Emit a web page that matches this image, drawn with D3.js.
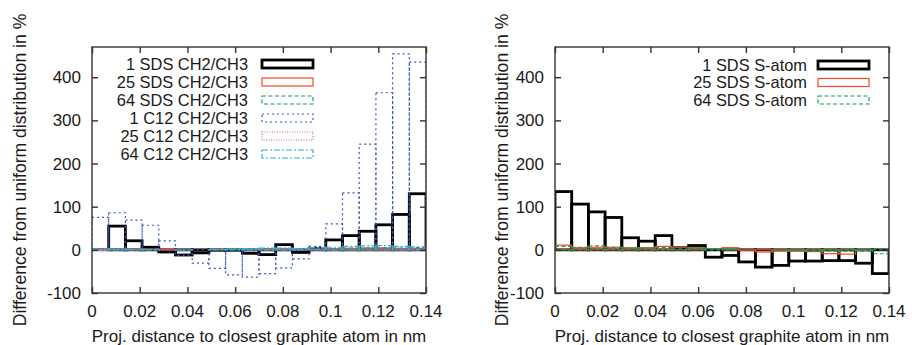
<!DOCTYPE html>
<html><head><meta charset="utf-8">
<script src="https://cdn.jsdelivr.net/npm/d3@7/dist/d3.min.js"></script>
<style>
html,body{margin:0;padding:0;background:#fff;}
svg{display:block;}
text{font-family:"Liberation Sans",Arial,Helvetica,sans-serif;fill:#1a1a1a;}
</style></head>
<body>
<svg id="chart" width="912" height="345"></svg>
<script>
// ---- data ----
const binEdges = [0,0.007,0.014,0.021,0.028,0.035,0.042,0.049,0.056,0.063,0.07,0.077,0.084,0.091,0.098,0.105,0.112,0.119,0.126,0.133,0.14];
const xTicks = [0,0.02,0.04,0.06,0.08,0.1,0.12,0.14];
const xTickLabels = ["0","0.02","0.04","0.06","0.08","0.1","0.12","0.14"];
const yTicks = [-100,0,100,200,300,400];
const yTickLabels = ["-100","0","100","200","300","400"];

// left panel: CH2/CH3
const leftNames = ["1 SDS CH2/CH3","25 SDS CH2/CH3","64 SDS CH2/CH3","1 C12 CH2/CH3","25 C12 CH2/CH3","64 C12 CH2/CH3"];
const sds1CH  = [0,55,21,6,-5,-12,-7,-1,-1,-8,-11,12,-6,3,23,33,43,58,82,130];
const sds25CH = [3,2,2,2,1,0,0,1,0,1,2,3,1,2,3,3,4,4,3,2];
const sds64CH = [2,2,1,1,0,0,0,0,1,1,2,2,1,2,3,4,4,5,4,5];
const c12_1CH = [75,86,69,57,21,-13,-31,-43,-58,-63,-55,-42,-21,8,60,132,245,364,454,435];
const c12_25CH = [-3,1,1,0,-1,-1,0,0,0,1,2,2,1,2,3,4,5,5,4,3];
const c12_64CH = [2,2,1,1,0,-1,0,1,2,3,4,4,3,5,6,8,9,10,8,7];

// right panel: S-atom
const rightNames = ["1 SDS S-atom","25 SDS S-atom","64 SDS S-atom"];
const sds1S  = [135,106,88,75,28,20,33,5,10,-17,-13,-28,-40,-36,-26,-26,-25,-25,-31,-55];
const sds25S = [11,5,6,6,5,5,8,6,5,0,5,-1,-5,-3,-3,-4,-9,-10,-1,0];
const sds64S = [8,6,9,6,4,4,5,4,4,2,1,0,0,-1,-2,-3,-3,-3,-3,-9];

// ---- styles ----
const styles = [
  {color:"#000000", width:2.8, dash:null},
  {color:"#ee4a2c", width:1.2, dash:null},
  {color:"#1a9a4a", width:1.2, dash:"4,2.5"},
  {color:"#3d55c8", width:1.2, dash:"2,3"},
  {color:"#e0559e", width:1.2, dash:"1,1.5"},
  {color:"#2bb3dc", width:1.2, dash:"6,2,2,2"}
];

const svg = d3.select("#chart");

function panel(opts){
  const {x0,x1,y0,y1,series,names,legendTextX,legendKeyX,legendRows,titleX} = opts;
  const x = d3.scaleLinear().domain([0,0.14]).range([x0,x1]);
  const y = d3.scaleLinear().domain([-100,470]).range([y1,y0]);
  const g = svg.append("g");
  const clipId = "clip"+Math.round(x0);
  svg.append("clipPath").attr("id",clipId).append("rect")
    .attr("x",x0).attr("y",y0).attr("width",x1-x0).attr("height",y1-y0);
  const plot = g.append("g").attr("clip-path",`url(#${clipId})`);

  series.forEach((vals,si)=>{
    const st = styles[si];
    plot.append("g").selectAll("rect").data(vals).join("rect")
      .attr("x",(d,i)=>x(binEdges[i]))
      .attr("width",(d,i)=>x(binEdges[i+1])-x(binEdges[i]))
      .attr("y",d=>Math.min(y(d),y(0)))
      .attr("height",d=>Math.abs(y(d)-y(0)))
      .attr("fill","none")
      .attr("stroke",st.color)
      .attr("stroke-width",st.width)
      .attr("stroke-dasharray",st.dash);
  });

  // frame
  g.append("rect").attr("x",x0).attr("y",y0).attr("width",x1-x0).attr("height",y1-y0)
    .attr("fill","none").attr("stroke","#333").attr("stroke-width",1.4);
  const tl = 6;
  const axB = d3.axisBottom(x).tickValues(xTicks).tickSize(tl).tickFormat(()=>"");
  const axT = d3.axisTop(x).tickValues(xTicks).tickSize(tl).tickFormat(()=>"");
  const axL = d3.axisLeft(y).tickValues(yTicks).tickSize(tl).tickFormat(()=>"");
  const axR = d3.axisRight(y).tickValues(yTicks).tickSize(tl).tickFormat(()=>"");
  [[axB,`translate(0,${y1-tl})`],[axT,`translate(0,${y0+tl})`],[axL,`translate(${x0+tl},0)`],[axR,`translate(${x1-tl},0)`]]
   .forEach(([ax,tr])=>{
     const a = g.append("g").attr("transform",tr).call(ax);
     a.select(".domain").remove();
     a.selectAll("line").attr("stroke","#333").attr("stroke-width",1.4);
   });
  // tick labels
  g.selectAll(null).data(xTicks).join("text")
    .attr("x",d=>x(d)).attr("y",317).attr("text-anchor","middle")
    .attr("font-size",17).text((d,i)=>xTickLabels[i]);
  g.selectAll(null).data(yTicks).join("text")
    .attr("x",x0-11).attr("y",d=>y(d)+6).attr("text-anchor","end")
    .attr("font-size",17).text((d,i)=>yTickLabels[i]);
  // axis titles
  g.append("text").attr("x",(x0+x1)/2).attr("y",342).attr("text-anchor","middle")
    .attr("font-size",17).text("Proj. distance to closest graphite atom in nm");
  g.append("text").attr("transform",`translate(${titleX},170) rotate(-90)`)
    .attr("text-anchor","middle").attr("font-size",17.6)
    .text("Difference from uniform distribution in %");
  // legend
  names.forEach((n,i)=>{
    const cy = legendRows[i];
    const st = styles[i];
    g.append("text").attr("x",legendTextX).attr("y",cy+5.6).attr("text-anchor","end")
      .attr("font-size",16.4).text(n);
    g.append("rect").attr("x",legendKeyX).attr("y",cy-4).attr("width",51).attr("height",8)
      .attr("fill","none").attr("stroke",st.color).attr("stroke-width",st.width)
      .attr("stroke-dasharray",st.dash);
  });
}

panel({x0:92,x1:426,y0:47,y1:293,
  series:[sds1CH,sds25CH,sds64CH,c12_1CH,c12_25CH,c12_64CH],
  names:leftNames, legendTextX:248, legendKeyX:262,
  legendRows:[64,82,100,118,136,154], titleX:26});
panel({x0:555,x1:889,y0:47,y1:293,
  series:[sds1S,sds25S,sds64S],
  names:rightNames, legendTextX:807, legendKeyX:818,
  legendRows:[65,82.5,100], titleX:508});
</script>
</body></html>
